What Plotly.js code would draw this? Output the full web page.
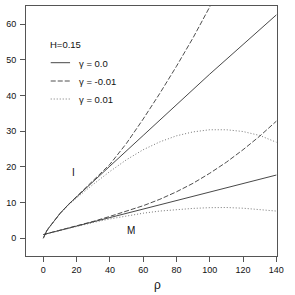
<!DOCTYPE html>
<html>
<head>
<meta charset="utf-8">
<script src="https://cdn.plot.ly/plotly-3.0.1.min.js"></script>
<style>html,body{margin:0;padding:0;background:#fff;}#chart{width:295px;height:295px;}</style>
</head>
<body>
<div id="chart"></div>
<script>
// I branch (upper curves)
const rhoI_solid  = [0,1,2,3,5,7,10,15,20,30,40,60,80,100,120,140];
const valI_solid  = [0,1.2,2.0,2.7,4.0,5.2,6.9,9.4,11.6,15.9,20.2,28.8,37.4,46.0,54.3,62.6];
const rhoI_dashed = [0,1,2,3,5,7,10,15,20,30,40,50,60,70,80,90,100,105];
const valI_dashed = [0,1.2,2.0,2.7,4.0,5.2,6.9,9.4,11.7,16.1,20.7,26.6,33.4,40.6,48.2,56.2,64.7,69.2];
const rhoI_dotted = [0,1,2,3,5,7,10,15,20,30,40,50,60,70,80,90,100,110,120,130,140];
const valI_dotted = [0,1.2,2.0,2.7,4.0,5.2,6.9,9.2,11.3,15.1,18.7,22.0,24.8,27.0,28.7,29.8,30.4,30.4,29.9,28.8,26.9];
// M branch (lower curves)
const rhoM_solid  = [0,20,40,60,80,100,120,140];
const valM_solid  = [1.0,3.4,5.8,8.1,10.5,12.9,15.3,17.7];
const rhoM_dashed = [0,10,20,30,40,50,60,70,80,90,100,110,120,130,140];
const valM_dashed = [1.0,2.2,3.4,4.7,6.1,7.5,9.1,10.9,13.0,15.4,18.2,21.3,24.8,28.6,32.8];
const rhoM_dotted = [0,10,20,30,40,50,60,70,80,90,100,110,120,130,140];
const valM_dotted = [1.0,2.2,3.3,4.4,5.4,6.3,7.0,7.6,8.0,8.35,8.55,8.6,8.4,8.05,7.6];

const xTicks = [0,20,40,60,80,100,120,140];
const yTicks = [0,10,20,30,40,50,60];
const legendTitle = "H=0.15";
const legendLabels = ["\u03b3 = 0.0", "\u03b3 = -0.01", "\u03b3 = 0.01"];
const branchLabels = [{t:"I", x:18, y:18.4}, {t:"M", x:52.6, y:2.1}];

const FONT = "Liberation Sans, Arial, Helvetica, sans-serif";
const styles = {
  solid:  {color:"#333333", width:0.9, dash:"solid"},
  dashed: {color:"#3a3a3a", width:0.9, dash:"5px,2px"},
  dotted: {color:"#666666", width:0.9, dash:"1px,2px"}
};
function tr(x,y,s){ return {x:x, y:y, type:"scatter", mode:"lines", line:styles[s], hoverinfo:"skip", showlegend:false}; }

const data = [
  tr(rhoI_solid, valI_solid, "solid"),
  tr(rhoI_dashed, valI_dashed, "dashed"),
  tr(rhoI_dotted, valI_dotted, "dotted"),
  tr(rhoM_solid, valM_solid, "solid"),
  tr(rhoM_dashed, valM_dashed, "dashed"),
  tr(rhoM_dotted, valM_dotted, "dotted")
];

const L = 26, R = 276.7, T = 6, B = 256, W = 295, H = 295;
const pw = R - L, ph = B - T;
const px = v => (v - L) / pw;
const py = v => 1 - (v - T) / ph;

const annotations = [];
const shapes = [];
annotations.push({xref:"paper", yref:"paper", x:px(48.3), y:py(44), xanchor:"left", yanchor:"middle", text:legendTitle, showarrow:false, font:{family:FONT, size:9.5, color:"#111111"}});
const legY = [62.7, 81, 99];
const legStyles = ["solid","dashed","dotted"];
legendLabels.forEach((lab,i)=>{
  shapes.push({type:"line", xref:"paper", yref:"paper", x0:px(50.7), x1:px(70), y0:py(legY[i]), y1:py(legY[i]), line:styles[legStyles[i]]});
  annotations.push({xref:"paper", yref:"paper", x:px(77), y:py(legY[i]+0.5), xanchor:"left", yanchor:"middle", text:lab, showarrow:false, font:{family:FONT, size:9.5, color:"#111111"}});
});
branchLabels.forEach(b=>{
  annotations.push({xref:"x", yref:"y", x:b.x, y:b.y, text:b.t, showarrow:false, xanchor:"center", yanchor:"middle", font:{family:FONT, size:10, color:"#111111"}});
});
annotations.push({xref:"paper", yref:"paper", x:px(157), y:py(285), xanchor:"center", yanchor:"middle", text:"\u03c1", showarrow:false, font:{family:FONT, size:12, color:"#111111"}});

const axisCommon = {
  showgrid:false, zeroline:false, showline:true, mirror:true, linecolor:"#555", linewidth:1,
  ticks:"outside", ticklen:5, tickwidth:1, tickcolor:"#555",
  tickfont:{family:FONT, size:9, color:"#111"}, tickmode:"array"
};

const layout = {
  width:W, height:H,
  margin:{l:L, r:W-R, t:T, b:H-B, pad:0},
  paper_bgcolor:"#fff", plot_bgcolor:"#fff",
  xaxis: Object.assign({}, axisCommon, {range:[-10.4,140.4], tickvals:xTicks, ticktext:xTicks.map(String)}),
  yaxis: Object.assign({}, axisCommon, {range:[-5,65.1], tickvals:yTicks, ticktext:yTicks.map(String), ticklabelstandoff:2}),
  annotations:annotations, shapes:shapes, showlegend:false
};

Plotly.newPlot("chart", data, layout, {staticPlot:true, displayModeBar:false});
</script>
</body>
</html>
